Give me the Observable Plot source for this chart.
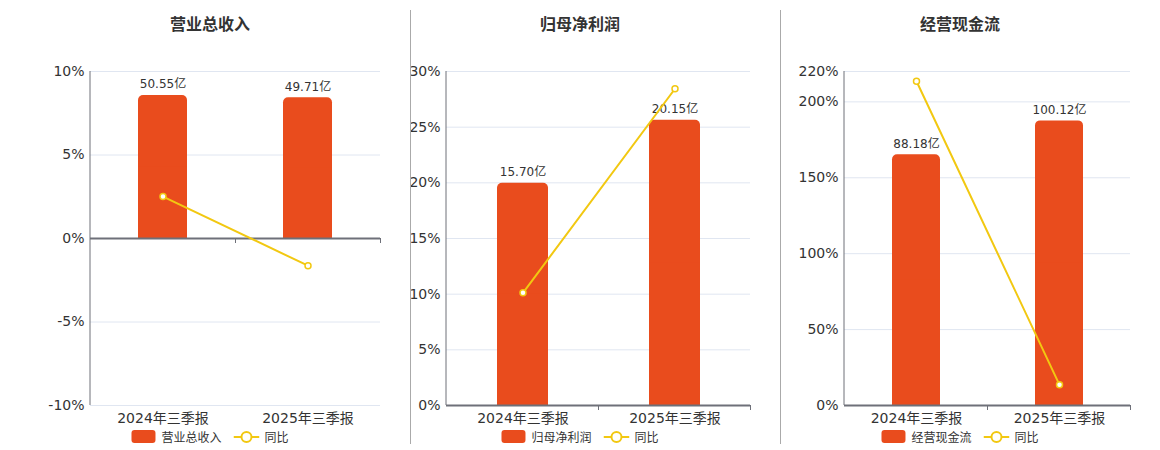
<!DOCTYPE html>
<html>
<head>
<meta charset="utf-8">
<script src="https://cdn.jsdelivr.net/npm/d3@7"></script>
<script src="https://cdn.jsdelivr.net/npm/@observablehq/plot@0.6"></script>
<style>
  body { margin: 0; background: #fff; font-family: "DejaVu Sans", "Noto Sans CJK SC", sans-serif; }
  #root { position: relative; width: 1160px; height: 450px; overflow: hidden; }
  .panel { position: absolute; top: 0; }
  .title { position: absolute; top: 11px; font-size: 16px; font-weight: bold; color: #333; white-space: nowrap; transform: translateX(-50%); font-family: "Noto Sans CJK SC", sans-serif; }
  .legend { position: absolute; top: 428px; display: flex; align-items: center; font-size: 12px; color: #333; white-space: nowrap; transform: translateX(-50%); font-family: "Noto Sans CJK SC", sans-serif; }
  .sw { display: inline-block; width: 24px; height: 13px; border-radius: 3px; margin-right: 6px; }
  .divider { position: absolute; top: 10px; height: 434px; width: 1px; background: #aaa; }
</style>
</head>
<body>
<div id="root"></div>
<script>
const categories = ["2024年三季报", "2025年三季报"];
const titles = ["营业总收入", "归母净利润", "经营现金流"];

const revenue = [50.55, 49.71];
const revenueYoy = [2.51, -1.63];
const netProfit = [15.70, 20.15];
const netProfitYoy = [10.12, 28.45];
const cashFlow = [88.18, 100.12];
const cashFlowYoy = [213.6, 13.6];

const yTicks1 = [-10, -5, 0, 5, 10];
const yTicks2 = [0, 5, 10, 15, 20, 25, 30];
const yTicks3 = [0, 50, 100, 150, 200, 220];

// hidden bar-axis maxima (bar values are drawn on a secondary axis)
const barAxisMax = [59.0, 23.6, 117.5];

const barColor = "#E94C1D";
const lineColor = "#F2C811";
const axisColor = "#6E7079";
const gridColor = "#E0E6F1";

const panels = [
  {title: titles[0], bars: revenue, yoy: revenueYoy, ticks: yTicks1, left: 0, width: 410, ml: 90, mr: 30, center: 210},
  {title: titles[1], bars: netProfit, yoy: netProfitYoy, ticks: yTicks2, left: 410, width: 370, ml: 36, mr: 30, center: 170},
  {title: titles[2], bars: cashFlow, yoy: cashFlowYoy, ticks: yTicks3, left: 780, width: 380, ml: 64, mr: 30, center: 180}
];

const root = document.getElementById("root");

panels.forEach((p, i) => {
  const yMin = d3.min(p.ticks), yMax = d3.max(p.ticks);
  const k = yMax / barAxisMax[i];
  const data = categories.map((c, j) => ({cat: c, value: p.bars[j], yoy: p.yoy[j]}));

  const axisDecor = (index, scales, values, dims) => {
    const g = d3.create("svg:g");
    const x0 = dims.marginLeft, x1 = dims.width - dims.marginRight;
    const yb = dims.height - dims.marginBottom;
    const y0 = scales.y(0);
    g.append("line").attr("x1", x0).attr("x2", x0).attr("y1", dims.marginTop).attr("y2", yb)
      .attr("stroke", axisColor).attr("stroke-width", 1);
    const n = categories.length;
    for (let t = 1; t <= n; t++) {
      const tx = Math.round(x0 + t * (x1 - x0) / n) + 0.5;
      g.append("line").attr("x1", tx).attr("x2", tx).attr("y1", y0).attr("y2", y0 + 5)
        .attr("stroke", axisColor).attr("stroke-width", 1);
    }
    return g.node();
  };

  const chart = Plot.plot({
    width: p.width,
    height: 430,
    marginLeft: p.ml,
    marginRight: p.mr,
    marginTop: 71,
    marginBottom: 25,
    style: {fontFamily: "'DejaVu Sans', 'Noto Sans CJK SC', sans-serif", color: "#333", background: "transparent", overflow: "visible"},
    x: {domain: categories, paddingInner: 0.665, paddingOuter: 0.3325, label: null},
    y: {domain: [yMin, yMax], label: null},
    marks: [
      Plot.gridY(p.ticks, {stroke: gridColor, strokeOpacity: 1}),
      // rounded bar (top corners) + square lower half so only the top is rounded
      Plot.barY(data, {x: "cat", y: d => d.value * k, fill: barColor, rx: 5, ry: 5}),
      Plot.barY(data, {x: "cat", y: d => d.value * k / 2, fill: barColor}),
      Plot.text(data, {x: "cat", y: d => d.value * k, text: d => d.value.toFixed(2) + "亿", dy: -11, fontSize: 12, fill: "#333"}),
      Plot.ruleY([0], {stroke: axisColor, strokeWidth: 2}),
      axisDecor,
      Plot.axisY({ticks: p.ticks, tickFormat: d => d + "%", tickSize: 0, tickPadding: 6, fontSize: 14}),
      Plot.axisX({tickSize: 0, tickPadding: 8, fontSize: 14}),
      Plot.line(data, {x: "cat", y: "yoy", stroke: lineColor, strokeWidth: 2}),
      Plot.dot(data, {x: "cat", y: "yoy", r: 3, fill: "#fff", stroke: lineColor, strokeWidth: 1.5})
    ]
  });

  const panel = document.createElement("div");
  panel.className = "panel";
  panel.style.left = p.left + "px";
  panel.style.width = p.width + "px";
  panel.style.height = "450px";
  panel.appendChild(chart);

  const title = document.createElement("div");
  title.className = "title";
  title.style.left = p.center + "px";
  title.textContent = p.title;
  panel.appendChild(title);

  const legend = document.createElement("div");
  legend.className = "legend";
  legend.style.left = p.center + "px";
  legend.innerHTML =
    `<span class="sw" style="background:${barColor}"></span><span>${p.title}</span>` +
    `<svg width="26" height="14" style="margin:0 5px 0 12px"><line x1="0" x2="26" y1="7" y2="7" stroke="${lineColor}" stroke-width="2"/><circle cx="13" cy="7" r="5" fill="#fff" stroke="${lineColor}" stroke-width="2"/></svg><span>同比</span>`;
  panel.appendChild(legend);

  root.appendChild(panel);
});

[410, 780].forEach(x => {
  const d = document.createElement("div");
  d.className = "divider";
  d.style.left = x + "px";
  root.appendChild(d);
});
</script>
</body>
</html>
